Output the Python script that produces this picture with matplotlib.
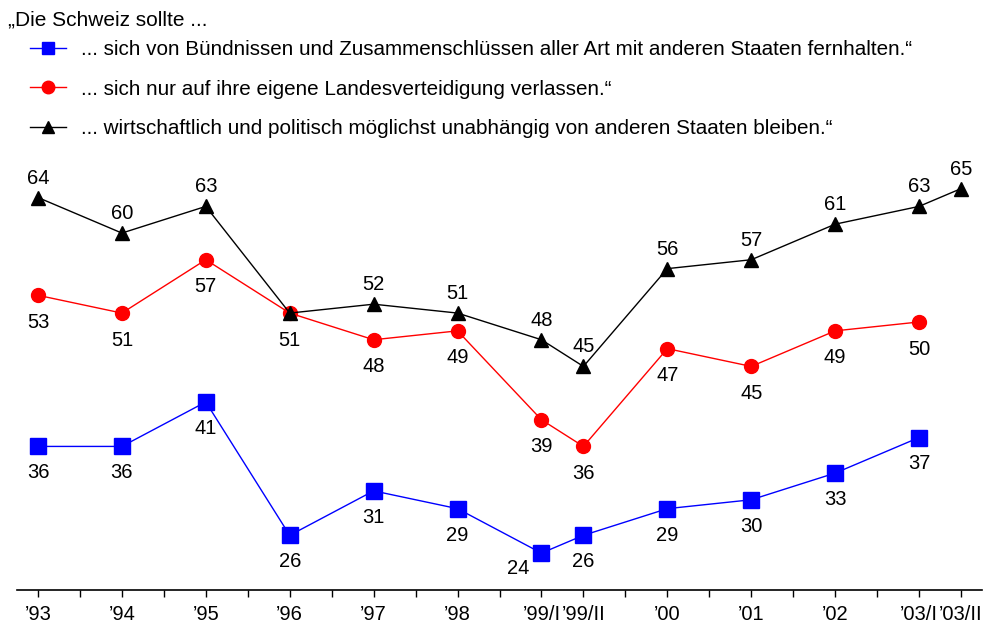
import matplotlib.pyplot as plt
import numpy as np
from matplotlib.lines import Line2D

plt.rcParams['font.family'] = ['Liberation Sans', 'DejaVu Sans']

# data
labels = ['’93', '’94', '’95', '’96', '’97', '’98', '’99/I', '’99/II',
          '’00', '’01', '’02', '’03/I', '’03/II']
fernhalten = [36, 36, 41, 26, 31, 29, 24, 26, 29, 30, 33, 37, None]
landesvert = [53, 51, 57, 51, 48, 49, 39, 36, 47, 45, 49, 50, None]
unabhaengig = [64, 60, 63, 51, 52, 51, 48, 45, 56, 57, 61, 63, 65]

names = ['... sich von Bündnissen und Zusammenschlüssen aller Art mit anderen Staaten fernhalten.“',
         '... sich nur auf ihre eigene Landesverteidigung verlassen.“',
         '... wirtschaftlich und politisch möglichst unabhängig von anderen Staaten bleiben.“']

# half-year surveys sit half a step after the first one
x = []
for i, lab in enumerate(labels):
    if i == 0:
        x.append(0.0)
    else:
        x.append(x[-1] + (0.5 if lab.endswith('/II') else 1.0))
x = np.array(x)

fig = plt.figure(figsize=(9.86, 6.26), dpi=100)
ax = fig.add_axes([17 / 986, 36 / 626, 965 / 986, 444.5 / 626])
ax.set_xlim(-0.25, 11.25)
ax.set_ylim(19.85, 69.85)


def series(vals):
    v = np.array([np.nan if a is None else a for a in vals], dtype=float)
    return v


b = series(fernhalten)
r = series(landesvert)
k = series(unabhaengig)

ax.plot(x, b, color='#0000ff', lw=1, marker='s', ms=11, mec='#0000ff')
ax.plot(x, r, color='#ff0000', lw=1, marker='o', ms=10, mec='#ff0000')
ax.plot(x, k, color='black', lw=1, marker='^', ms=10)

fs = 14.5
for i, v in enumerate(b):
    if np.isnan(v):
        continue
    off = (-17, -11) if labels[i] == '’99/I' else (0, -19)
    ax.annotate(f'{v:.0f}', (x[i], v), xytext=off, textcoords='offset points',
                ha='center', va='center', fontsize=fs)
for i, v in enumerate(r):
    if np.isnan(v):
        continue
    ax.annotate(f'{v:.0f}', (x[i], v), xytext=(0, -19.5), textcoords='offset points',
                ha='center', va='center', fontsize=fs)
for i, v in enumerate(k):
    if np.isnan(v) or v == r[i]:
        continue
    ax.annotate(f'{v:.0f}', (x[i], v), xytext=(0, 14), textcoords='offset points',
                ha='center', va='center', fontsize=fs)

for s in ['top', 'left', 'right']:
    ax.spines[s].set_visible(False)
ax.spines['bottom'].set_linewidth(1.2)
ax.set_yticks([])
ax.set_xticks(x)
ax.set_xticklabels(labels, fontsize=fs)
ax.set_xticks(np.arange(0, 11.01, 0.5), minor=True)
ax.tick_params(axis='x', which='both', direction='out', length=5, width=1, pad=5.5)

fig.text(8 / 986, 1 - 20 / 626, '„Die Schweiz sollte ...', fontsize=15, va='center', ha='left')

handles = [
    Line2D([], [], color='#0000ff', lw=1, marker='s', ms=9),
    Line2D([], [], color='#ff0000', lw=1, marker='o', ms=9),
    Line2D([], [], color='black', lw=1, marker='^', ms=9),
]
fig.legend(handles, names, loc='upper left', bbox_to_anchor=(30 / 986, 1 - 40 / 626),
           frameon=False, fontsize=14.9, handlelength=1.75, handletextpad=0.72,
           labelspacing=1.0, borderpad=0, borderaxespad=0)

fig.savefig('out.png', dpi=100)
